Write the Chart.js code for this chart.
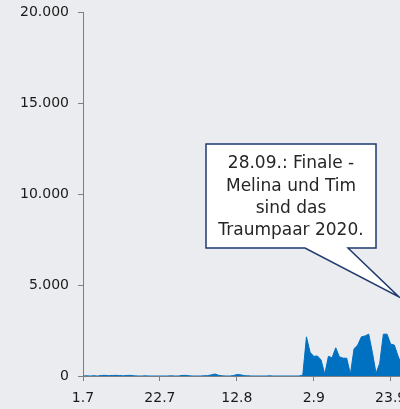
<!DOCTYPE html>
<html>
<head>
<meta charset="utf-8">
<script src="https://cdn.jsdelivr.net/npm/chart.js@4/dist/chart.umd.min.js"></script>
<style>
    html, body { margin: 0; padding: 0; background: #EBECF0; overflow: hidden; }
    #wrap { width: 420px; height: 409px; }
</style>
</head>
<body>
<div id="wrap"><canvas id="myChart" width="420" height="409"></canvas></div>
<script>
// Tagesdaten 1.7. - 28.9.
var startDatum = new Date(2020, 6, 1);
var anzahlTage = 90;
var tickAbstand = 21; // Beschriftung alle 3 Wochen

var werte = [
    0, 10, 0, 15, 0, 30, 35, 20, 30, 35,   // 1.7 - 10.7
    25, 10, 30, 35, 10, 0, 0, 10, 0, 0,    // 11.7 - 20.7
    0, 0, 0, 0, 10, 0, 0, 30, 35, 10,      // 21.7 - 30.7
    0, 0, 0, 10, 20, 60, 110, 40, 10, 0,   // 31.7 - 9.8
    0, 20, 80, 70, 20, 10, 0, 0, 0, 0,     // 10.8 - 19.8
    0, 10, 0, 0, 0, 0, 0, 0, 0, 0,         // 20.8 - 29.8
    50, 2150, 1300, 1080, 1100, 880, 100, 1080, 1000, 1550,  // 30.8 - 8.9
    1050, 980, 980, 100, 1500, 1700, 2150, 2200, 2300, 1300, // 9.9 - 18.9
    150, 700, 2300, 2300, 1750, 1700, 1100, 600, 1600, 4300  // 19.9 - 28.9
];

var labels = [];
for (var i = 0; i < anzahlTage; i++) {
    var d = new Date(startDatum.getTime() + i * 86400000);
    labels.push(d.getDate() + '.' + (d.getMonth() + 1));
}

var yTicks = [0, 5000, 10000, 15000, 20000];
var calloutText = ['28.09.: Finale -', 'Melina und Tim', 'sind das', 'Traumpaar 2020.'];

var schrift = '"DejaVu Sans", sans-serif';

// Sprechblase mit Text
var calloutPlugin = {
    id: 'callout',
    afterDraw: function (chart) {
        var ctx = chart.ctx;
        var l = 206, t = 144, r = 376, b = 248;
        ctx.save();
        ctx.beginPath();
        ctx.moveTo(l, t);
        ctx.lineTo(r, t);
        ctx.lineTo(r, b);
        ctx.lineTo(348, b);
        ctx.lineTo(399, 297);
        ctx.lineTo(305, b);
        ctx.lineTo(l, b);
        ctx.closePath();
        ctx.fillStyle = '#FFFFFF';
        ctx.fill();
        ctx.strokeStyle = '#1F3A6E';
        ctx.lineWidth = 1.5;
        ctx.stroke();

        ctx.fillStyle = '#262626';
        ctx.font = '17px ' + schrift;
        ctx.textAlign = 'center';
        ctx.textBaseline = 'middle';
        var ys = [164, 187, 209, 231];
        calloutText.forEach(function (zeile, i) {
            ctx.fillText(zeile, (l + r) / 2, ys[i]);
        });
        ctx.restore();
    }
};

var ctx = document.getElementById('myChart').getContext('2d');
var myChart = new Chart(ctx, {
    type: 'line',
    data: {
        labels: labels,
        datasets: [{
            data: werte,
            borderColor: '#0070C0',
            backgroundColor: '#0070C0',
            borderWidth: 1,
            fill: 'origin',
            tension: 0,
            pointRadius: 0
        }]
    },
    options: {
        responsive: false,
        animation: false,
        layout: { padding: { left: 0, right: 11, top: 12, bottom: 0 } },
        plugins: { legend: { display: false }, tooltip: { enabled: false } },
        scales: {
            x: {
                type: 'category',
                offset: false,
                border: { display: true, color: '#7F7F7F', dash: [1, 1], width: 1 },
                grid: { display: true, drawOnChartArea: false, drawTicks: true, tickLength: 5, color: '#7F7F7F' },
                ticks: {
                    autoSkip: false,
                    maxRotation: 0,
                    padding: 9,
                    color: '#1A1A1A',
                    font: { family: schrift, size: 14 },
                    callback: function (val, index) {
                        return index % tickAbstand === 0 ? this.getLabelForValue(val) : null;
                    }
                },
                afterFit: function (scale) {
                    scale.height = 33;
                    scale.paddingLeft = 0;
                    scale.paddingRight = 0;
                }
            },
            y: {
                min: 0,
                max: 20000,
                border: { display: true, color: '#7F7F7F', dash: [1, 1], width: 1 },
                grid: { display: true, drawOnChartArea: false, drawTicks: true, tickLength: 5, color: '#7F7F7F' },
                afterBuildTicks: function (scale) {
                    scale.ticks = yTicks.map(function (v) { return { value: v }; });
                },
                ticks: {
                    padding: 9,
                    color: '#1A1A1A',
                    font: { family: schrift, size: 14 },
                    callback: function (val) {
                        return val.toLocaleString('de-DE');
                    }
                },
                afterFit: function (scale) {
                    scale.width = 83;
                    scale.paddingTop = 0;
                    scale.paddingBottom = 0;
                }
            }
        }
    },
    plugins: [calloutPlugin]
});
</script>
</body>
</html>
